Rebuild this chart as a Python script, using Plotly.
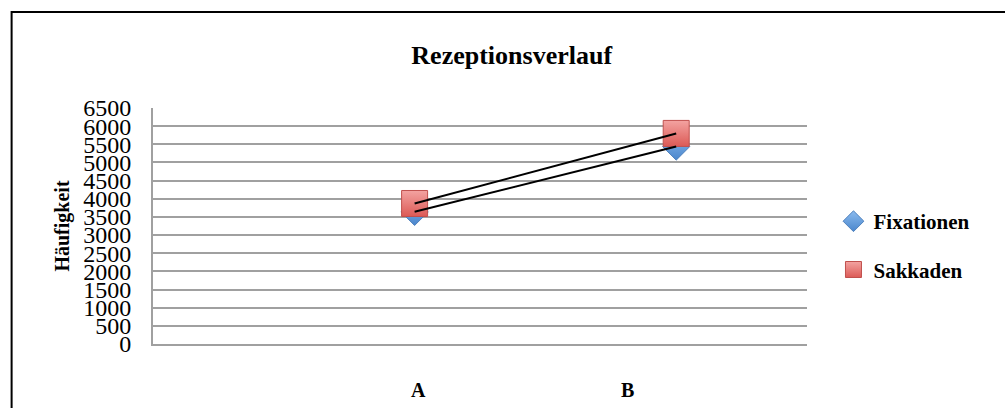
import plotly.graph_objects as go

# Data
categories = ["A", "B"]
fixationen = [3640, 5440]
sakkaden = [3870, 5800]
y_ticks = list(range(0, 6501, 500))

SERIF = "Liberation Serif"
GRID = "#a0a0a0"

# horizontal placement of the category points and their labels on a 0..5 axis
point_x = [2, 4]
label_x = [2.03, 3.63]

W, H = 1005, 408
L, R, T, B = 153, 197.5, 107.7, 63.7
pw, ph = W - L - R, H - T - B


def px_to_paper_x(px):
    return (px - L) / pw


def px_to_paper_y(py):
    return (H - B - py) / ph


fig = go.Figure()

fig.add_trace(go.Scatter(
    x=point_x, y=fixationen, name="<b>Fixationen</b>", mode="markers",
    legendgroup="fix",
    marker=dict(symbol="diamond", size=21, color="#8bbbef",
                gradient=dict(type="vertical", color="#4a86cc"),
                line=dict(color="#4f81bd", width=1)),
))
fig.add_trace(go.Scatter(
    x=point_x, y=sakkaden, name="<b>Sakkaden</b>", mode="markers",
    legendgroup="sak",
    marker=dict(symbol="square", size=26, color="#f3a3a1",
                gradient=dict(type="vertical", color="#dc5a56"),
                line=dict(color="#c0504d", width=1)),
))
for vals, grp in ((fixationen, "fix"), (sakkaden, "sak")):
    fig.add_trace(go.Scatter(
        x=point_x, y=vals, mode="lines", legendgroup=grp, showlegend=False,
        line=dict(color="black", width=2), hoverinfo="skip",
    ))

# category labels, set well below the plot area
for pos, cat in zip(label_x, categories):
    fig.add_annotation(x=pos, xref="x", y=px_to_paper_y(390), yref="paper",
                       text=f"<b>{cat}</b>", showarrow=False,
                       xanchor="center", yanchor="middle",
                       font=dict(size=20, family=SERIF, color="black"))

# outer frame of the chart
fig.add_shape(type="rect", xref="paper", yref="paper",
              x0=px_to_paper_x(11.5), x1=px_to_paper_x(1100),
              y0=px_to_paper_y(500), y1=px_to_paper_y(11.5),
              line=dict(color="black", width=2), layer="below")

fig.update_layout(
    width=W, height=H,
    margin=dict(l=L, r=R, t=T, b=B, pad=0, autoexpand=False),
    paper_bgcolor="white", plot_bgcolor="white",
    font=dict(family=SERIF, color="black"),
    title=dict(text="<b>Rezeptionsverlauf</b>", x=px_to_paper_x(512),
               xref="paper", xanchor="center", y=1 - 55 / H, yanchor="middle",
               font=dict(size=26, family=SERIF)),
    showlegend=True,
    legend=dict(x=px_to_paper_x(834), y=px_to_paper_y(201), xanchor="left",
                yanchor="top", traceorder="grouped", tracegroupgap=18,
                font=dict(size=21, family=SERIF), bgcolor="rgba(0,0,0,0)"),
    xaxis=dict(range=[0, 5], showgrid=False, zeroline=False,
               showline=True, linecolor=GRID, linewidth=2,
               automargin=False, showticklabels=False, ticks=""),
    yaxis=dict(range=[0, 6500], tickvals=y_ticks, ticks="",
               automargin=False,
               showgrid=True, gridcolor=GRID, gridwidth=2,
               showline=True, linecolor=GRID, linewidth=2,
               zeroline=False, ticklabelstandoff=15,
               tickfont=dict(size=24, family=SERIF),
               title=dict(text="<b>Häufigkeit</b>", standoff=8,
                          font=dict(size=20, family=SERIF))),
)

fig.write_html("out.html")
